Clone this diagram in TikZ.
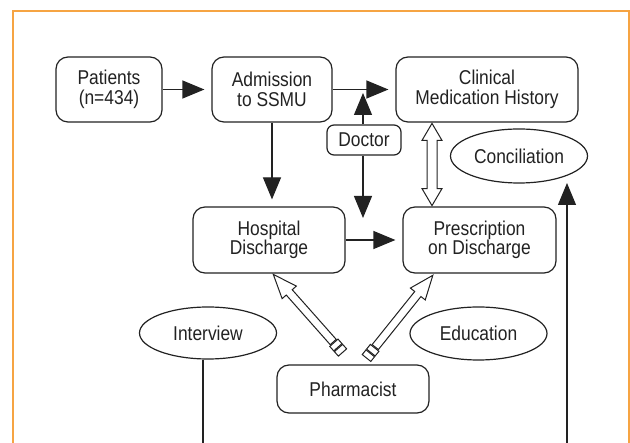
\documentclass[tikz,border=0pt]{standalone}
\usepackage{fontspec}
\setmainfont{Liberation Sans}[FakeStretch=0.87]
\usetikzlibrary{arrows.meta,shapes.geometric,calc}
\definecolor{frameorange}{HTML}{F6A443}
\definecolor{ink}{HTML}{222222}
\newcommand\openarrow[2]{%
  \pgfpointdiff{\pgfpointanchor{#1}{center}}{\pgfpointanchor{#2}{center}}%
  \pgfgetlastxy{\oadx}{\oady}%
  \pgfmathsetmacro\oaang{atan2(\oady,\oadx)}%
  \pgfmathsetmacro\oalen{veclen(\oadx,\oady)}%
  \begin{scope}[shift={(#1)}, rotate=\oaang, x=1pt, y=1pt]
    \draw[openline] (14,4) -- ({\oalen-24},4) -- ({\oalen-24},9.5) -- (\oalen,0)
      -- ({\oalen-24},-9.5) -- ({\oalen-24},-4) -- (14,-4) -- cycle;
    \draw[openline] (7,-5.5) rectangle (13,5.5);
    \draw[openline] (0,-5.5) rectangle (6,5.5);
  \end{scope}}
\begin{document}
\begin{tikzpicture}[x=1pt,y=-1pt,
  font=\fontsize{20}{19.5}\selectfont,
  box/.style={draw=ink, line width=1.2pt, rounded corners=12pt, align=center, inner sep=0pt, text=ink},
  oval/.style={draw=ink, line width=1.2pt, ellipse, inner sep=0pt, text=ink},
  arr/.style={draw=ink, line width=1.2pt, -{Triangle[length=22pt,width=18pt]}, shorten >=7pt},
  plain/.style={draw=ink, line width=1.2pt},
  openline/.style={draw=ink, line width=1pt, fill=white, line join=miter}]
\useasboundingbox (0,0) rectangle (630,443);
\clip (0,0) rectangle (630,443);
\fill[white] (0,0) rectangle (630,443);
\draw[frameorange, line width=2pt] (13,450) -- (13,11.5) -- (628.5,11.5) -- (628.5,450);

\node[box, minimum width=106pt, minimum height=65pt] (pat) at (109,89.5) {Patients\\(n=434)};
\node[box, minimum width=120pt, minimum height=65pt] (adm) at (272,89.5) {Admission\\to SSMU};
\node[box, minimum width=182pt, minimum height=65pt] (cli) at (487,89.5) {Clinical\\Medication History};
\node[box, rounded corners=7pt, minimum width=74pt, minimum height=30pt] (doc) at (364,140) {Doctor};
\node[box, minimum width=152pt, minimum height=66pt] (hos) at (269,240) {Hospital\\Discharge};
\node[box, minimum width=153pt, minimum height=66pt] (pre) at (479.5,240) {Prescription\\on Discharge};
\node[oval, minimum width=137pt, minimum height=54pt] (con) at (519,156) {Conciliation};
\node[oval, minimum width=137pt, minimum height=52pt] (int) at (208,333) {Interview};
\node[oval, minimum width=137pt, minimum height=53pt] (edu) at (478.5,333.5) {Education};
\node[box, minimum width=152pt, minimum height=48pt] (pha) at (353,389) {Pharmacist};

% solid arrows
\draw[arr] (pat.east) -- (pat.east -| adm.west);
\draw[arr] (adm.east) -- (adm.east -| cli.west);
\draw[arr] (adm.south) -- (adm.south |- hos.north);
\draw[arr] (hos.east) -- (hos.east -| pre.west);
\coordinate (dup) at (363,93);
\coordinate (ddn) at (363,218);
\draw[arr, shorten >=0pt] (doc.north -| dup) -- (dup);
\draw[arr, shorten >=0pt] (doc.south -| ddn) -- (ddn);

% right vertical line to conciliation
\coordinate (rb) at (567,450);
\coordinate (rt) at (567,183);
\draw[arr, shorten >=0pt] (rb) -- (rt);
% interview line
\coordinate (ib) at (203,450);
\draw[plain] (ib) -- (ib |- int.south);

% double hollow arrow
\coordinate (dha) at ($(cli.south)+(-55,0.8)$);
\coordinate (dhb) at ($(pre.north)+(-47.5,-0.8)$);
\draw[openline] (dha) -- ($(dha)+(10,17)$) -- ($(dha)+(5,17)$) -- ($(dhb)+(5,-17)$)
  -- ($(dhb)+(10,-17)$) -- (dhb) -- ($(dhb)+(-10,-17)$) -- ($(dhb)+(-5,-17)$)
  -- ($(dha)+(-5,17)$) -- ($(dha)+(-10,17)$) -- cycle;

% pharmacist open arrows
\coordinate (t1) at (342.5,352.5);
\coordinate (h1) at ($(hos.south)+(4.3,0.8)$);
\coordinate (t2) at (366.5,358);
\coordinate (h2) at ($(pre.south)+(-46.5,1.5)$);
\openarrow{t1}{h1}
\openarrow{t2}{h2}
\end{tikzpicture}
\end{document}
